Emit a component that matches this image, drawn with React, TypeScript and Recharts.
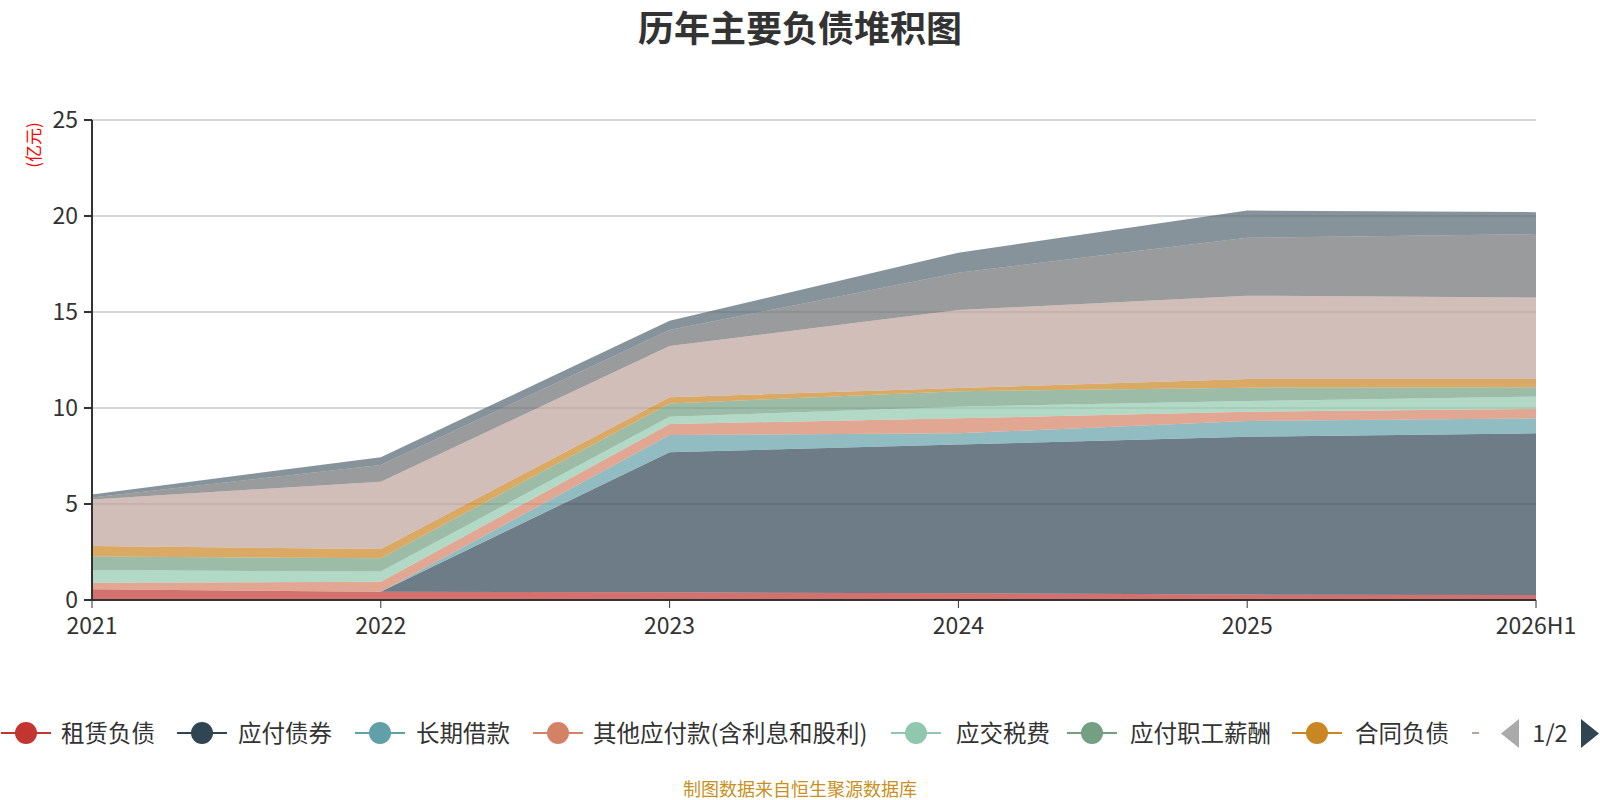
import { Area, AreaChart, CartesianGrid, XAxis, YAxis } from 'recharts'

// 报告期
const periods = ['2021', '2022', '2023', '2024', '2025', '2026H1']

// 各负债科目（亿元），自下而上堆叠
const leaseLiabilities = [0.56, 0.43, 0.4, 0.35, 0.28, 0.26]
const bondsPayable = [0, 0, 7.3, 7.75, 8.22, 8.42]
const longTermLoans = [0, 0, 0.89, 0.58, 0.82, 0.78]
const otherPayables = [0.34, 0.52, 0.58, 0.78, 0.49, 0.49]
const taxesPayable = [0.66, 0.53, 0.38, 0.61, 0.55, 0.64]
const payrollPayable = [0.7, 0.69, 0.69, 0.8, 0.7, 0.49]
const contractLiabilities = [0.55, 0.49, 0.32, 0.17, 0.45, 0.43]
const accountsPayable = [2.43, 3.5, 2.67, 4.06, 4.34, 4.24]
const shortTermLoans = [0.1, 0.87, 0.83, 1.95, 3.02, 3.31]
const currentPortionNonCurrent = [0.16, 0.4, 0.49, 1.04, 1.41, 1.14]

const yTicks = [0, 5, 10, 15, 20, 25]

const SERIES = [
  { key: 'lease', name: '租赁负债', color: '#c23531', values: leaseLiabilities },
  { key: 'bonds', name: '应付债券', color: '#2f4554', values: bondsPayable },
  { key: 'ltLoans', name: '长期借款', color: '#61a0a8', values: longTermLoans },
  { key: 'other', name: '其他应付款(含利息和股利)', color: '#d48265', values: otherPayables },
  { key: 'tax', name: '应交税费', color: '#91c7ae', values: taxesPayable },
  { key: 'payroll', name: '应付职工薪酬', color: '#749f83', values: payrollPayable },
  { key: 'contract', name: '合同负债', color: '#ca8622', values: contractLiabilities },
  { key: 'ap', name: '应付账款', color: '#bda29a', values: accountsPayable },
  { key: 'stLoans', name: '短期借款', color: '#6e7074', values: shortTermLoans },
  { key: 'cpnc', name: '一年内到期的非流动负债', color: '#546570', values: currentPortionNonCurrent },
]

const data = periods.map((period, i) => {
  const row: Record<string, string | number> = { period }
  for (const s of SERIES) row[s.key] = s.values[i]
  return row
})

const FONT = '"Noto Sans CJK SC", "Noto Sans", sans-serif'

// 图例第一页（前 7 项）及其位置
const legendPage = [
  { idx: 0, cx: 26, tx: 61 },
  { idx: 1, cx: 202, tx: 238 },
  { idx: 2, cx: 380, tx: 416 },
  { idx: 3, cx: 558, tx: 593 },
  { idx: 4, cx: 916, tx: 956 },
  { idx: 5, cx: 1092, tx: 1130 },
  { idx: 6, cx: 1317, tx: 1355 },
]

function LegendItem({ color, name, cx, tx }: { color: string; name: string; cx: number; tx: number }) {
  return (
    <>
      <div style={{ position: 'absolute', left: cx - 25, top: 732, width: 50, height: 2, background: color }} />
      <div
        style={{
          position: 'absolute',
          left: cx - 11,
          top: 722,
          width: 22,
          height: 22,
          borderRadius: '50%',
          background: color,
        }}
      />
      <div
        style={{
          position: 'absolute',
          left: tx,
          top: 733,
          transform: 'translateY(-50%)',
          fontSize: 23.5,
          color: '#333',
          whiteSpace: 'nowrap',
          lineHeight: 1,
        }}
      >
        {name}
      </div>
    </>
  )
}

export default function App() {
  return (
    <div
      style={{
        position: 'absolute',
        left: 0,
        top: 0,
        width: 1600,
        height: 800,
        background: '#fff',
        fontFamily: FONT,
        overflow: 'hidden',
      }}
    >
      <div
        style={{
          position: 'absolute',
          left: 0,
          width: 1600,
          top: 7,
          textAlign: 'center',
          fontSize: 36,
          fontWeight: 'bold',
          color: '#333',
          lineHeight: '38px',
        }}
      >
        历年主要负债堆积图
      </div>

      <div
        style={{
          position: 'absolute',
          left: 32,
          top: 145,
          transform: 'translate(-50%, -50%) rotate(-90deg)',
          fontSize: 17,
          color: '#ff0000',
          whiteSpace: 'nowrap',
          lineHeight: 1,
        }}
      >
        (亿元)
      </div>

      <AreaChart
        width={1600}
        height={800}
        data={data}
        margin={{ top: 120, right: 64, bottom: 170, left: 32 }}
        style={{ position: 'absolute', left: 0, top: 0 }}
      >
        <CartesianGrid vertical={false} stroke="#c8c8c8" strokeWidth={1.5} />
        <XAxis
          dataKey="period"
          height={30}
          tickLine={{ stroke: '#333' }}
          axisLine={{ stroke: '#333', strokeWidth: 2 }}
          tickSize={8}
          tickMargin={10}
          interval={0}
          tick={{ fill: '#333', fontSize: 23, fontFamily: FONT }}
        />
        <YAxis
          width={60}
          domain={[0, 25]}
          ticks={yTicks}
          interval={0}
          tickLine={{ stroke: '#333', strokeWidth: 2 }}
          axisLine={{ stroke: '#333', strokeWidth: 2 }}
          tickSize={8}
          tickMargin={6}
          tick={{ fill: '#333', fontSize: 23, fontFamily: FONT }}
        />
        {SERIES.map((s) => (
          <Area
            key={s.key}
            type="linear"
            dataKey={s.key}
            name={s.name}
            stackId="1"
            stroke="none"
            fill={s.color}
            fillOpacity={0.7}
            dot={false}
            activeDot={false}
            isAnimationActive={false}
          />
        ))}
      </AreaChart>

      {legendPage.map((l) => (
        <LegendItem key={l.idx} color={SERIES[l.idx].color} name={SERIES[l.idx].name} cx={l.cx} tx={l.tx} />
      ))}
      {/* 第 8 项图例被翻页器截断，只露出一小段 */}
      <div style={{ position: 'absolute', left: 1472, top: 732, width: 7, height: 2, background: SERIES[7].color }} />

      <svg style={{ position: 'absolute', left: 0, top: 0 }} width={1600} height={800}>
        <polygon points="1519,719 1519,748 1501,733.5" fill="#aaa" />
        <polygon points="1581,719 1581,748 1599,733.5" fill="#2f4554" />
      </svg>
      <div
        style={{
          position: 'absolute',
          left: 1550,
          top: 733,
          transform: 'translate(-50%, -50%)',
          fontSize: 23.5,
          color: '#333',
          lineHeight: 1,
        }}
      >
        1/2
      </div>

      <div
        style={{
          position: 'absolute',
          left: 0,
          width: 1600,
          top: 778,
          textAlign: 'center',
          fontSize: 18,
          color: '#c8901e',
          lineHeight: '20px',
        }}
      >
        制图数据来自恒生聚源数据库
      </div>
    </div>
  )
}
